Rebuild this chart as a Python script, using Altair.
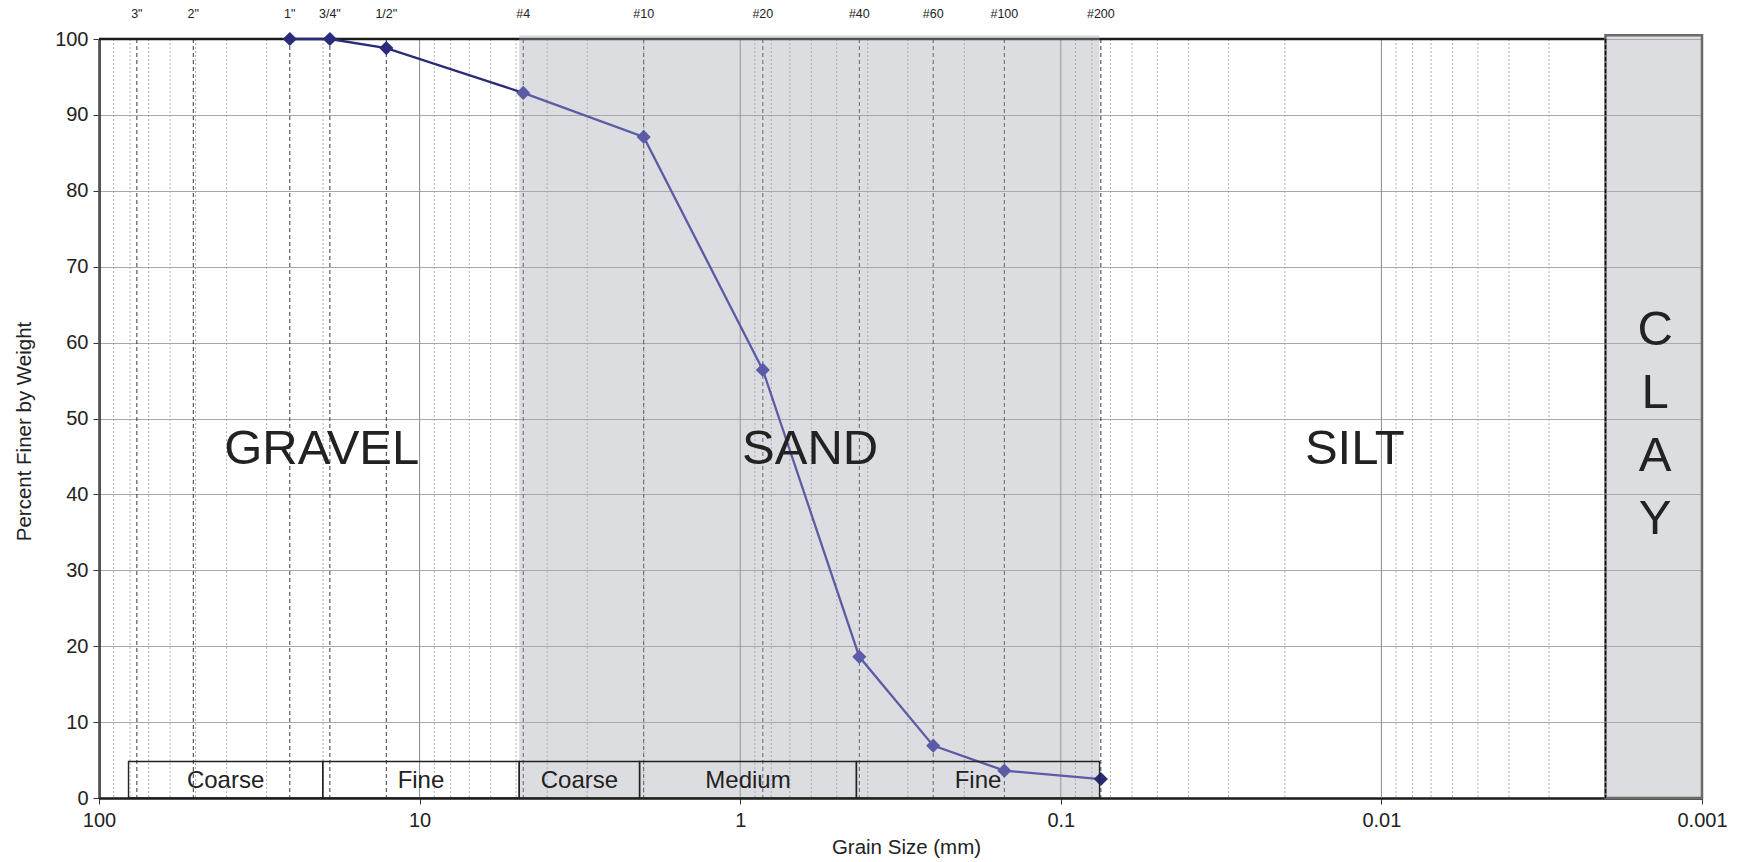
import altair as alt
import pandas as pd

FONT = "Liberation Sans"

# ---- sieve designations (top labels) and their openings in mm ----
sieve_labels = ['3"', '2"', '1"', '3/4"', '1/2"', '#4', '#10', '#20', '#40', '#60', '#100', '#200']
sieve_mm = [76.2, 50.8, 25.4, 19.05, 12.7, 4.75, 2.0, 0.85, 0.425, 0.25, 0.15, 0.075]

# ---- gradation test results ----
test_mm = [25.4, 19.05, 12.7, 4.75, 2.0, 0.85, 0.425, 0.25, 0.15, 0.075]
percent_finer = [100, 100, 98.8, 92.9, 87.1, 56.4, 18.6, 6.9, 3.6, 2.5]

# ---- axis ticks ----
x_ticks = [100, 10, 1, 0.1, 0.01, 0.001]
y_ticks = [0, 10, 20, 30, 40, 50, 60, 70, 80, 90, 100]
decades = [10, 1, 0.1, 0.01, 0.001]
minor_mult = [2, 3, 4, 5, 6, 7, 8, 9]

# ---- soil zones ----
zone_names = ["GRAVEL", "SAND", "SILT"]
zone_label_x = [20.2, 0.605, 0.0121]
zone_label_y = [46.0, 46.0, 46.0]
clay_letters = ["C", "L", "A", "Y"]
clay_letter_y = [61.7, 53.4, 45.1, 36.8]
clay_label_x = 0.0014
sand_from, sand_to = 4.89, 0.0757
clay_from, clay_to = 0.002, 0.001
zone_top = 100.5

# ---- sub-classification boxes ----
sub_names = ["Coarse", "Fine", "Coarse", "Medium", "Fine"]
sub_left = [80.9, 20.05, 4.89, 2.06, 0.434]
sub_right = [20.05, 4.89, 2.06, 0.434, 0.0757]
sub_top = 4.8
sub_label_y = 2.2

# ---------------------------------------------------------------
xs = alt.Scale(type="log", domain=[0.001, 100], reverse=True, nice=False)
ys = alt.Scale(domain=[0, 100], nice=False)

x_axis = alt.Axis(values=x_ticks, format="~g", grid=False, labelFlush=False,
                  labelOverlap=False, title="Grain Size (mm)", titlePadding=7, titleX=807,
                  tickSize=6, tickColor="#333333", domainColor="#1a1a1a",
                  domainWidth=2.5, labelPadding=6)
y_axis = alt.Axis(values=y_ticks, grid=True, gridColor="#a8a8a8", gridWidth=1,
                  title="Percent Finer by Weight", titlePadding=20, titleY=392,
                  labelFlush=False, tickSize=6, tickColor="#333333", domainColor="#1a1a1a",
                  domainWidth=2.5, labelPadding=5)

minor_df = pd.DataFrame({"x": [d * m for d in decades for m in minor_mult]})
major_df = pd.DataFrame({"x": x_ticks})
sieve_df = pd.DataFrame({"label": sieve_labels, "x": sieve_mm})
test_df = pd.DataFrame({"x": test_mm, "y": percent_finer})
top_df = pd.DataFrame({"x": [100], "x2": [clay_from], "y": [100]})
sand_df = pd.DataFrame({"x": [sand_from], "x2": [sand_to], "y": [0], "y2": [zone_top]})
clay_df = pd.DataFrame({"x": [clay_from], "x2": [clay_to], "y": [0], "y2": [zone_top]})
clay_line_df = pd.DataFrame({"x": [clay_from]})
sub_df = pd.DataFrame({"name": sub_names, "x": sub_left, "x2": sub_right,
                       "y": [0] * len(sub_names), "y2": [sub_top] * len(sub_names),
                       "ly": [sub_label_y] * len(sub_names)})
zone_df = pd.DataFrame({"name": zone_names, "x": zone_label_x, "y": zone_label_y})
clay_txt_df = pd.DataFrame({"name": clay_letters, "x": [clay_label_x] * 4, "y": clay_letter_y})


def X(field):
    return alt.X(field, type="quantitative", scale=xs, axis=x_axis)


def Y(field):
    return alt.Y(field, type="quantitative", scale=ys, axis=y_axis)


NAVY = "#2B2B7C"
LIGHT = "#5B5BA6"
MSIZE = 200

minor = alt.Chart(minor_df).mark_rule(color="#9a9a9a", strokeWidth=0.8, strokeDash=[2, 2]).encode(x=X("x"))
major = alt.Chart(major_df).mark_rule(color="#8a8a8a", strokeWidth=1).encode(x=X("x"))
sieves = alt.Chart(sieve_df).mark_rule(color="#222222", strokeWidth=0.9, strokeDash=[4, 3]).encode(x=X("x"))
top = alt.Chart(top_df).mark_rule(color="#1a1a1a", strokeWidth=2.5).encode(x=X("x"), x2="x2", y=Y("y"))

base = alt.Chart(test_df)
line_gravel = base.transform_filter("datum.x >= 4.75").mark_line(color=NAVY, strokeWidth=2.3).encode(
    x=X("x"), y=Y("y"))
pts_gravel = base.transform_filter("datum.x > 4.8").mark_point(
    shape="diamond", filled=True, size=MSIZE, color=NAVY, opacity=1).encode(x=X("x"), y=Y("y"))

sand = alt.Chart(sand_df).mark_rect(color="#A8AAB4", opacity=0.4).encode(x=X("x"), x2="x2", y=Y("y"), y2="y2")
clay = alt.Chart(clay_df).mark_rect(fill="#A8AAB4", fillOpacity=0.4, stroke="#6a6a6a",
                                    strokeWidth=2.5).encode(x=X("x"), x2="x2", y=Y("y"), y2="y2")
clay_line = alt.Chart(clay_line_df).mark_rule(color="#111111", strokeWidth=1.4, strokeDash=[4, 2]).encode(x=X("x"))

line_sand = base.transform_filter("datum.x <= 4.75").mark_line(color=LIGHT, strokeWidth=2.3).encode(
    x=X("x"), y=Y("y"))
pts_sand = base.transform_filter("datum.x <= 4.8 && datum.x > 0.08").mark_point(
    shape="diamond", filled=True, size=MSIZE, color=LIGHT, opacity=1).encode(x=X("x"), y=Y("y"))
pts_last = base.transform_filter("datum.x < 0.08").mark_point(
    shape="diamond", filled=True, size=MSIZE, color=NAVY, opacity=1).encode(x=X("x"), y=Y("y"))

boxes = alt.Chart(sub_df).mark_rect(fill="white", fillOpacity=0, stroke="#222222", strokeWidth=1.4).encode(
    x=X("x"), x2="x2", y=Y("y"), y2="y2")
box_labels = alt.Chart(sub_df).transform_calculate(cx="sqrt(datum.x * datum.x2)").mark_text(
    font=FONT, fontSize=24, color="#222222", baseline="middle", align="center").encode(
    x=X("cx:Q"), y=Y("ly:Q"), text="name:N")

zone_text = alt.Chart(zone_df).mark_text(font=FONT, fontSize=49, color="#222222",
                                         baseline="middle", align="center").encode(
    x=X("x"), y=Y("y"), text="name:N")
clay_text = alt.Chart(clay_txt_df).mark_text(font=FONT, fontSize=49, color="#222222",
                                             baseline="middle", align="center").encode(
    x=X("x"), y=Y("y"), text="name:N")

sieve_text = alt.Chart(sieve_df).mark_text(font=FONT, fontSize=12.5, color="#222222",
                                           baseline="middle", align="center").encode(
    x=X("x"), y=alt.value(-25), text="label:N")

chart = alt.layer(
    minor, major, sieves, top, line_gravel, pts_gravel, sand, clay, clay_line,
    line_sand, pts_sand, pts_last, boxes, box_labels, zone_text, clay_text, sieve_text,
).properties(
    width=1603, height=759,
    autosize=alt.AutoSizeParams(type="none"),
    padding={"left": 91, "top": 31, "right": 26, "bottom": 60},
    background="white",
).configure_view(stroke=None).configure_axis(
    labelFont=FONT, titleFont=FONT, labelFontSize=20, titleFontSize=20.5,
    titleFontWeight="normal", labelColor="#222222", titleColor="#222222",
)

chart.save("out.html", embed_options={"renderer": "svg", "actions": False})
